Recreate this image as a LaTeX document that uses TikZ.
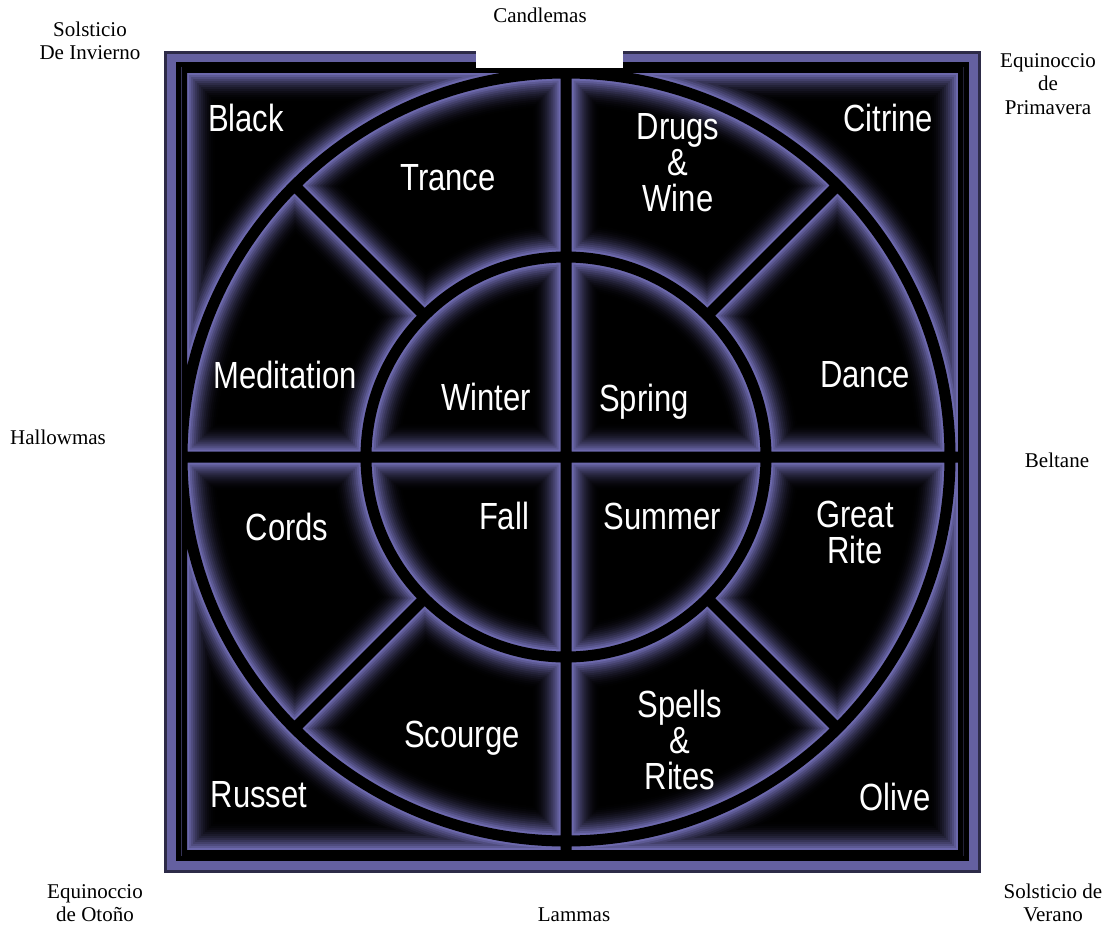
\documentclass[tikz,border=0pt]{standalone}
\usepackage{fontspec}
\usepackage{graphicx}
\usetikzlibrary{calc}
\newfontfamily\wheelfont{Liberation Sans}
\newfontfamily\seasonfont{Liberation Serif}
\definecolor{glowc}{RGB}{108,104,172}
\definecolor{framec}{RGB}{100,96,160}
\newcommand\Rin{200}
\newcommand\Rout{384}
\newcommand\tallt[1]{\scalebox{1}[1.22]{#1}}
% all the dark gaps of the wheel
\newcommand\wheelseps{(c) circle[radius=\Rout] (c) circle[radius=\Rin]
  (566,67.5) -- (566,855.5) (181.5,457) -- (963.5,457)
  (181.5,67.5) rectangle (963.5,855.5)
  \foreach \a in {45,135,225,315}{ ($(c)+(\a:\Rin)$) -- ($(c)+(\a:\Rout)$) }}

\begin{document}
\begin{tikzpicture}[x=1pt,y=-1pt,
    wheellabel/.style={text=white, font={\wheelfont\fontsize{31}{36}\selectfont}, align=center, inner sep=0pt},
    daylabel/.style={font={\seasonfont\fontsize{21}{23.5}\selectfont}, align=center, inner sep=0pt}]
  \useasboundingbox (0,0) rectangle (1110,928);
  \coordinate (c) at (566,457);

  % frame
  \fill[framec!45!black] (164,51) rectangle (981,873);
  \fill[framec] (167,54) rectangle (978,870);
  \fill[black] (176,62) rectangle (969,861);

  % glowing cells
  \begin{scope}
    \clip (181.5,67.5) rectangle (963.5,855.5);
    \foreach \d in {28,26,...,2}{
      \pgfmathsetmacro\w{11+2*\d}
      \pgfmathsetmacro\p{100*((30-\d)/28)^2}
      \draw[line width=\w pt, glowc!\p!black] \wheelseps;
    }
    \draw[line width=11pt, black] \wheelseps;
  \end{scope}
  \fill[white] (476,40) rectangle (623,68);

  % wheel labels
  \node[wheellabel] (black) at (246,118) {\tallt{Black}};
  \node[wheellabel] (citrine) at (888,118) {\tallt{Citrine}};
  \node[wheellabel] (russet) at (259,795) {\tallt{Russet}};
  \node[wheellabel] (olive) at (895,797) {\tallt{Olive}};
  \node[wheellabel] (trance) at (448,178) {\tallt{Trance}};
  \node[wheellabel] (drugs) at (678,163) {\tallt{Drugs}\\\tallt{\&}\\\tallt{Wine}};
  \node[wheellabel] (dance) at (865,375) {\tallt{Dance}};
  \node[wheellabel] (greatrite) at (855,532) {\tallt{Great}\\\tallt{Rite}};
  \node[wheellabel] (spells) at (680,740) {\tallt{Spells}\\\tallt{\&}\\\tallt{Rites}};
  \node[wheellabel] (scourge) at (462,738) {\tallt{Scourge}};
  \node[wheellabel] (cords) at (287,527) {\tallt{Cords}};
  \node[wheellabel] (meditation) at (285,375) {\tallt{Meditation}};
  \node[wheellabel] (winter) at (486,397) {\tallt{Winter}};
  \node[wheellabel] (spring) at (644,402) {\tallt{Spring}};
  \node[wheellabel] (fall) at (504,516) {\tallt{Fall}};
  \node[wheellabel] (summer) at (662,516) {\tallt{Summer}};

  % sabbats round the frame
  \node[daylabel] (candlemas) at (540,15) {Candlemas};
  \node[daylabel] (yule) at (90,41) {Solsticio\\De Invierno};
  \node[daylabel] (ostara) at (1048,84) {Equinoccio\\de\\Primavera};
  \node[daylabel] (hallowmas) at (58,437) {Hallowmas};
  \node[daylabel] (beltane) at (1057,460) {Beltane};
  \node[daylabel] (mabon) at (95,903) {Equinoccio\\de Otoño};
  \node[daylabel] (lammas) at (574,915) {Lammas};
  \node[daylabel] (litha) at (1053,903) {Solsticio de\\Verano};
\end{tikzpicture}
\end{document}
